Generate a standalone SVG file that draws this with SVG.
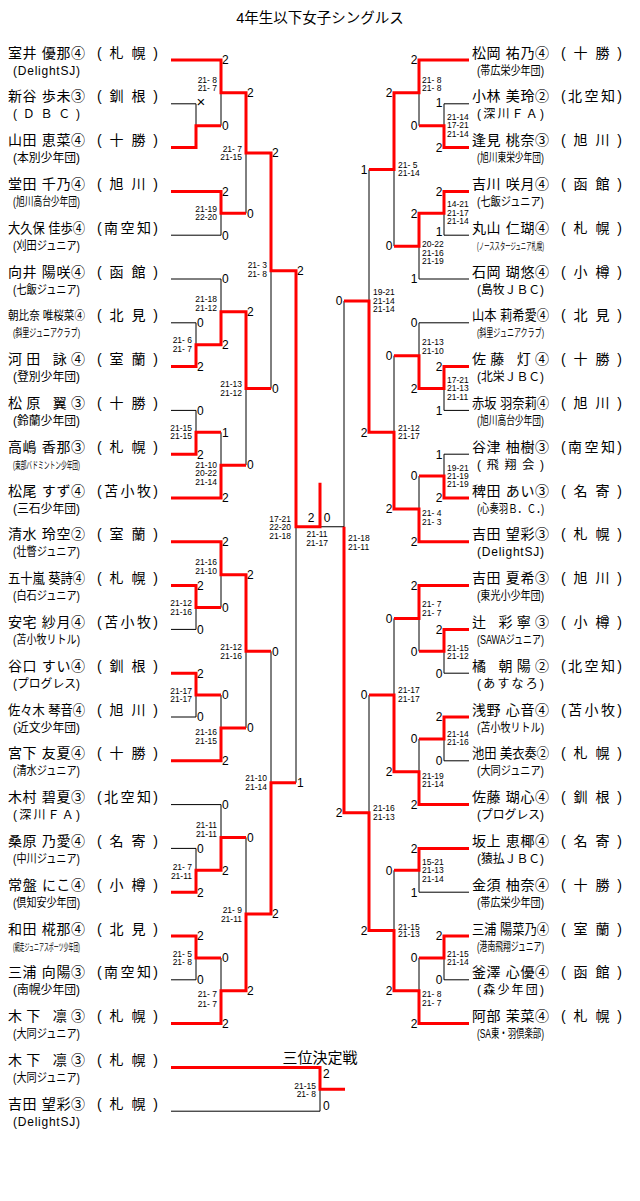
<svg xmlns="http://www.w3.org/2000/svg" width="640" height="1201" viewBox="0 0 640 1201">
<style>
text{font-family:"Liberation Sans","Noto Sans CJK JP",sans-serif;fill:#000}
.nm{font-size:14px}
.nm12{font-size:12px}
.tm{font-size:12px}
.t11{font-size:11px}
.t10{font-size:10px}
.lab{font-size:12px}
.labR{font-size:12px;text-anchor:end}
.sc{font-size:8.5px;text-anchor:end}
.scR{font-size:8.5px}
.scM{font-size:8.5px;text-anchor:middle}
.bl{fill:none;stroke:#000;stroke-width:1}
.rd{fill:none;stroke:#f00;stroke-width:3;stroke-linejoin:miter}
</style>
<rect width="640" height="1201" fill="#fff"/>
<text id="title" x="320" y="23" font-size="14.5" text-anchor="middle">4年生以下女子シングルス</text>
<text id="title3" x="320" y="1063" font-size="15" text-anchor="middle">三位決定戦</text>

<g id="connectors">
<path class="bl" d="M171,60H221 M171,103.8H196 M171,147.6H196 M171,191.4H221 M171,235.2H221 M171,279H221 M171,322.8H196 M171,366.6H196 M171,410.4H196 M171,454.2H196 M171,498H221 M171,541.8H221 M171,585.6H196 M171,629.4H196 M171,673.2H196 M171,717H196 M171,760.8H221 M171,804.6H221 M171,848.4H196 M171,892.2H196 M171,936H196 M171,979.8H196 M171,1023.6H221
M196,103.8V147.6 M196,125.7H221 M196,322.8V366.6 M196,344.7H221 M196,410.4V454.2 M196,432.3H221 M196,585.6V629.4 M196,607.5H221 M196,673.2V717 M196,695.1H221 M196,848.4V892.2 M196,870.3H221 M196,936V979.8 M196,957.9H221
M221,60V125.7 M221,92.85H246 M221,191.4V235.2 M221,213.3H246 M221,279V344.7 M221,311.85H246 M221,432.3V498 M221,465.15H246 M221,541.8V607.5 M221,574.65H246 M221,695.1V760.8 M221,727.95H246 M221,804.6V870.3 M221,837.45H246 M221,957.9V1023.6 M221,990.75H246
M246,92.85V213.3 M246,153.1H271 M246,311.85V465.15 M246,388.5H271 M246,574.65V727.95 M246,651.3H271 M246,837.45V990.75 M246,914.1H271
M271,153.1V388.5 M271,270.8H296 M271,651.3V914.1 M271,782.7H296
M296,270.8V782.7 M296,526.75H344
M171,1067.4H320 M171,1111.2H320 M320,1067.4V1111.2"/>
<path class="bl" d="M469,60H419 M469,103.8H444 M469,147.6H444 M469,191.4H444 M469,235.2H444 M469,279H419 M469,322.8H419 M469,366.6H444 M469,410.4H444 M469,454.2H444 M469,498H444 M469,541.8H419 M469,585.6H419 M469,629.4H444 M469,673.2H444 M469,717H444 M469,760.8H444 M469,804.6H419 M469,848.4H419 M469,892.2H419 M469,936H444 M469,979.8H444 M469,1023.6H419
M444,103.8V147.6 M444,125.7H419 M444,191.4V235.2 M444,213.3H419 M444,366.6V410.4 M444,388.5H419 M444,454.2V498 M444,476.1H419 M444,629.4V673.2 M444,651.3H419 M444,717V760.8 M444,738.9H419 M444,936V979.8 M444,957.9H419
M419,60V125.7 M419,92.85H394 M419,213.3V279 M419,246.15H394 M419,322.8V388.5 M419,355.65H394 M419,476.1V541.8 M419,508.95H394 M419,585.6V651.3 M419,618.45H394 M419,738.9V804.6 M419,771.75H394 M419,848.4V892.2 M419,870.3H394 M419,957.9V1023.6 M419,990.75H394
M394,92.85V246.15 M394,169.5H369 M394,355.65V508.95 M394,432.3H369 M394,618.45V771.75 M394,695.1H369 M394,870.3V990.75 M394,930.5H369
M369,169.5V432.3 M369,300.9H344 M369,695.1V930.5 M369,812.8H344
M344,300.9V812.8"/>
<path class="rd" d="M171,60H221V92.85H246V153.1H271V270.8H296V526.75H320V482.7"/>
<path class="rd" d="M171,147.6H196V125.7H221"/>
<path class="rd" d="M171,191.4H221V213.3H246"/>
<path class="rd" d="M171,366.6H196V344.7H221V311.85H246V388.5H271"/>
<path class="rd" d="M171,454.2H196V432.3H221"/>
<path class="rd" d="M171,498H221V465.15H246"/>
<path class="rd" d="M171,541.8H221V574.65H246V651.3H271"/>
<path class="rd" d="M171,585.6H196V607.5H221"/>
<path class="rd" d="M171,673.2H196V695.1H221"/>
<path class="rd" d="M171,760.8H221V727.95H246"/>
<path class="rd" d="M171,892.2H196V870.3H221V837.45H246"/>
<path class="rd" d="M171,936H196V957.9H221"/>
<path class="rd" d="M171,1023.6H221V990.75H246V914.1H271V782.7H296"/>
<path class="rd" d="M171,1067.4H320V1089.3H345"/>
<path class="rd" d="M469,60H419V92.85H394V169.5H369"/>
<path class="rd" d="M469,147.6H444V125.7H419"/>
<path class="rd" d="M469,191.4H444V213.3H419V246.15H394"/>
<path class="rd" d="M469,366.6H444V388.5H419V355.65H394"/>
<path class="rd" d="M469,498H444V476.1H419"/>
<path class="rd" d="M469,541.8H419V508.95H394V432.3H369V300.9H344"/>
<path class="rd" d="M469,585.6H419V618.45H394"/>
<path class="rd" d="M469,629.4H444V651.3H419"/>
<path class="rd" d="M469,717H444V738.9H419"/>
<path class="rd" d="M469,804.6H419V771.75H394V695.1H369"/>
<path class="rd" d="M469,848.4H419V870.3H394"/>
<path class="rd" d="M469,936H444V957.9H419"/>
<path class="rd" d="M469,1023.6H419V990.75H394V930.5H369V812.8H344V526.75"/>
</g>

<g id="points">
<text x="196.5" y="107" font-size="15">×</text>
<text class="lab" x="197" y="327.1">0</text><text class="lab" x="197" y="370.9">2</text>
<text class="lab" x="197" y="414.7">0</text><text class="lab" x="197" y="458.5">2</text>
<text class="lab" x="197" y="589.9">2</text><text class="lab" x="197" y="633.7">0</text>
<text class="lab" x="197" y="677.5">2</text><text class="lab" x="197" y="721.3">0</text>
<text class="lab" x="197" y="852.7">0</text><text class="lab" x="197" y="896.5">2</text>
<text class="lab" x="197" y="940.3">2</text><text class="lab" x="197" y="984.1">0</text>
<text class="lab" x="222" y="64.3">2</text><text class="lab" x="222" y="130">0</text>
<text class="lab" x="222" y="195.7">2</text><text class="lab" x="222" y="239.5">0</text>
<text class="lab" x="222" y="283.3">0</text><text class="lab" x="222" y="349">2</text>
<text class="lab" x="222" y="436.6">1</text><text class="lab" x="222" y="502.3">2</text>
<text class="lab" x="222" y="546.1">2</text><text class="lab" x="222" y="611.8">0</text>
<text class="lab" x="222" y="699.4">0</text><text class="lab" x="222" y="765.1">2</text>
<text class="lab" x="222" y="808.9">0</text><text class="lab" x="222" y="874.6">2</text>
<text class="lab" x="222" y="962.2">0</text><text class="lab" x="222" y="1027.9">2</text>
<text class="lab" x="247" y="97.15">2</text><text class="lab" x="247" y="217.6">0</text>
<text class="lab" x="247" y="316.15">2</text><text class="lab" x="247" y="469.45">0</text>
<text class="lab" x="247" y="578.95">2</text><text class="lab" x="247" y="732.25">0</text>
<text class="lab" x="247" y="841.75">0</text><text class="lab" x="247" y="995.05">2</text>
<text class="lab" x="272" y="157.4">2</text><text class="lab" x="272" y="392.8">0</text>
<text class="lab" x="272" y="655.6">0</text><text class="lab" x="272" y="918.4">2</text>
<text class="lab" x="297" y="275.1">2</text><text class="lab" x="297" y="787">1</text>
<text class="lab" x="311" y="521.5" text-anchor="middle">2</text><text class="lab" x="327" y="521.5" text-anchor="middle">0</text>
<text class="labR" x="442.5" y="106.5">1</text><text class="labR" x="442.5" y="151.9">2</text>
<text class="labR" x="442.5" y="195.7">2</text><text class="labR" x="442.5" y="236.3">1</text>
<text class="labR" x="442.5" y="370.9">2</text><text class="labR" x="442.5" y="414.7">1</text>
<text class="labR" x="442.5" y="458.5">1</text><text class="labR" x="442.5" y="502.3">2</text>
<text class="labR" x="442.5" y="633.7">2</text><text class="labR" x="442.5" y="677.5">0</text>
<text class="labR" x="442.5" y="721.3">2</text><text class="labR" x="442.5" y="765.1">0</text>
<text class="labR" x="442.5" y="940.3">2</text><text class="labR" x="442.5" y="984.1">0</text>
<text class="labR" x="417.5" y="64.3">2</text><text class="labR" x="417.5" y="130">0</text>
<text class="labR" x="417.5" y="217.6">2</text><text class="labR" x="417.5" y="283.3">1</text>
<text class="labR" x="417.5" y="327.1">0</text><text class="labR" x="417.5" y="392.8">2</text>
<text class="labR" x="417.5" y="480.4">0</text><text class="labR" x="417.5" y="546.1">2</text>
<text class="labR" x="417.5" y="589.9">2</text><text class="labR" x="417.5" y="655.6">0</text>
<text class="labR" x="417.5" y="743.2">0</text><text class="labR" x="417.5" y="808.9">2</text>
<text class="labR" x="417.5" y="852.7">2</text><text class="labR" x="417.5" y="896.5">1</text>
<text class="labR" x="417.5" y="962.2">0</text><text class="labR" x="417.5" y="1027.9">2</text>
<text class="labR" x="392.5" y="97.15">2</text><text class="labR" x="392.5" y="250.45">0</text>
<text class="labR" x="392.5" y="359.95">0</text><text class="labR" x="392.5" y="513.25">2</text>
<text class="labR" x="392.5" y="622.75">0</text><text class="labR" x="392.5" y="776.05">2</text>
<text class="labR" x="392.5" y="874.6">0</text><text class="labR" x="392.5" y="995.05">2</text>
<text class="labR" x="367.5" y="173.8">1</text><text class="labR" x="367.5" y="436.6">2</text>
<text class="labR" x="367.5" y="699.4">0</text><text class="labR" x="367.5" y="934.8">2</text>
<text class="labR" x="342.5" y="305.2">0</text><text class="labR" x="342.5" y="817.1">2</text>
<text class="lab" x="323" y="1078">2</text><text class="lab" x="323" y="1109.5">0</text>
</g>

<g id="scores">
<text class="sc"><tspan x="192" y="343">21- 6</tspan><tspan x="192" y="352">21- 7</tspan></text>
<text class="sc"><tspan x="192" y="430.7">21-15</tspan><tspan x="192" y="439">21-15</tspan></text>
<text class="sc"><tspan x="192" y="606.3">21-12</tspan><tspan x="192" y="614.7">21-16</tspan></text>
<text class="sc"><tspan x="192" y="693.7">21-17</tspan><tspan x="192" y="702.3">21-17</tspan></text>
<text class="sc"><tspan x="192" y="870.3">21- 7</tspan><tspan x="192" y="878.7">21-11</tspan></text>
<text class="sc"><tspan x="192" y="957">21- 5</tspan><tspan x="192" y="965.3">21- 8</tspan></text>
<text class="sc"><tspan x="217" y="83">21- 8</tspan><tspan x="217" y="90.7">21- 7</tspan></text>
<text class="sc"><tspan x="217" y="212">21-19</tspan><tspan x="217" y="219.7">22-20</tspan></text>
<text class="sc"><tspan x="217" y="302">21-18</tspan><tspan x="217" y="310.7">21-12</tspan></text>
<text class="sc"><tspan x="217" y="468">21-10</tspan><tspan x="217" y="475.7">20-22</tspan><tspan x="217" y="484.7">21-14</tspan></text>
<text class="sc"><tspan x="217" y="565.3">21-16</tspan><tspan x="217" y="574">21-10</tspan></text>
<text class="sc"><tspan x="217" y="735.3">21-16</tspan><tspan x="217" y="744">21-15</tspan></text>
<text class="sc"><tspan x="217" y="828">21-11</tspan><tspan x="217" y="837">21-11</tspan></text>
<text class="sc"><tspan x="217" y="997.3">21- 7</tspan><tspan x="217" y="1006.7">21- 7</tspan></text>
<text class="sc"><tspan x="242" y="152">21- 7</tspan><tspan x="242" y="159.7">21-15</tspan></text>
<text class="sc"><tspan x="242" y="387">21-13</tspan><tspan x="242" y="395.7">21-12</tspan></text>
<text class="sc"><tspan x="242" y="650.3">21-12</tspan><tspan x="242" y="659">21-16</tspan></text>
<text class="sc"><tspan x="242" y="913">21- 9</tspan><tspan x="242" y="922">21-11</tspan></text>
<text class="sc"><tspan x="267" y="268">21- 3</tspan><tspan x="267" y="277.3">21- 8</tspan></text>
<text class="sc"><tspan x="267" y="781.3">21-10</tspan><tspan x="267" y="789.7">21-14</tspan></text>
<text class="sc"><tspan x="291" y="522">17-21</tspan><tspan x="291" y="530">22-20</tspan><tspan x="291" y="539">21-18</tspan></text>
<text class="scM"><tspan x="317" y="537">21-11</tspan><tspan x="317" y="546">21-17</tspan></text>
<text class="scR"><tspan x="348" y="541">21-18</tspan><tspan x="348" y="550">21-11</tspan></text>
<text class="scR"><tspan x="447" y="120.3">21-14</tspan><tspan x="447" y="128">17-21</tspan><tspan x="447" y="137">21-14</tspan></text>
<text class="scR"><tspan x="447" y="207.3">14-21</tspan><tspan x="447" y="215.7">21-17</tspan><tspan x="447" y="224">21-14</tspan></text>
<text class="scR"><tspan x="447" y="383">17-21</tspan><tspan x="447" y="391.3">21-13</tspan><tspan x="447" y="400.3">21-11</tspan></text>
<text class="scR"><tspan x="447" y="470.7">19-21</tspan><tspan x="447" y="479">21-19</tspan><tspan x="447" y="487.3">21-19</tspan></text>
<text class="scR"><tspan x="447" y="650.7">21-15</tspan><tspan x="447" y="658.7">21-12</tspan></text>
<text class="scR"><tspan x="447" y="737.3">21-14</tspan><tspan x="447" y="745.3">21-16</tspan></text>
<text class="scR"><tspan x="447" y="957">21-15</tspan><tspan x="447" y="965.3">21-14</tspan></text>
<text class="scR"><tspan x="422" y="83">21- 8</tspan><tspan x="422" y="90.7">21- 8</tspan></text>
<text class="scR"><tspan x="422" y="247">20-22</tspan><tspan x="422" y="255.7">21-16</tspan><tspan x="422" y="264">21-19</tspan></text>
<text class="scR"><tspan x="422" y="345.3">21-13</tspan><tspan x="422" y="354">21-10</tspan></text>
<text class="scR"><tspan x="422" y="516.3">21- 4</tspan><tspan x="422" y="524.7">21- 3</tspan></text>
<text class="scR"><tspan x="422" y="607.3">21- 7</tspan><tspan x="422" y="616.3">21- 7</tspan></text>
<text class="scR"><tspan x="422" y="779">21-19</tspan><tspan x="422" y="787.3">21-14</tspan></text>
<text class="scR"><tspan x="422" y="864.7">15-21</tspan><tspan x="422" y="873">21-13</tspan><tspan x="422" y="882">21-14</tspan></text>
<text class="scR"><tspan x="422" y="997.3">21- 8</tspan><tspan x="422" y="1006.3">21- 7</tspan></text>
<text class="scR"><tspan x="398" y="168">21- 5</tspan><tspan x="398" y="176.3">21-14</tspan></text>
<text class="scR"><tspan x="398" y="430.7">21-12</tspan><tspan x="398" y="438.7">21-17</tspan></text>
<text class="scR"><tspan x="398" y="693">21-17</tspan><tspan x="398" y="702">21-17</tspan></text>
<text class="scR"><tspan x="398" y="929.7">21-15</tspan><tspan x="398" y="937.3">21-13</tspan></text>
<text class="scR"><tspan x="373" y="294.7">19-21</tspan><tspan x="373" y="303.7">21-14</tspan><tspan x="373" y="312">21-14</tspan></text>
<text class="scR"><tspan x="373" y="811.3">21-16</tspan><tspan x="373" y="819.7">21-13</tspan></text>
<text class="sc"><tspan x="316" y="1089">21-15</tspan><tspan x="316" y="1097">21- 8</tspan></text>
</g>

<g id="L00"><text class="nm" x="8" y="57.5" textLength="77" lengthAdjust="spacing">室井 優那④</text><text class="nm" x="97" y="57.5" textLength="61" lengthAdjust="spacing">(札幌)</text><text class="tm" x="13" y="74.5" textLength="67" lengthAdjust="spacing">(DelightSJ)</text></g>
<g id="L01"><text class="nm" x="8" y="101.3" textLength="77" lengthAdjust="spacing">新谷 歩未③</text><text class="nm" x="97" y="101.3" textLength="61" lengthAdjust="spacing">(釧根)</text><text class="tm" x="13" y="118.3" textLength="67" lengthAdjust="spacing">(ＤＢＣ)</text></g>
<g id="L02"><text class="nm" x="8" y="145.1" textLength="77" lengthAdjust="spacing">山田 恵菜④</text><text class="nm" x="97" y="145.1" textLength="61" lengthAdjust="spacing">(十勝)</text><text class="tm" x="13" y="162.1" textLength="67" lengthAdjust="spacingAndGlyphs">(本別少年団)</text></g>
<g id="L03"><text class="nm" x="8" y="188.9" textLength="77" lengthAdjust="spacing">堂田 千乃④</text><text class="nm" x="97" y="188.9" textLength="61" lengthAdjust="spacing">(旭川)</text><text class="tm" x="13" y="205.9" textLength="67" lengthAdjust="spacingAndGlyphs">(旭川高台少年団)</text></g>
<g id="L04"><text class="nm" x="8" y="232.7" textLength="77" lengthAdjust="spacingAndGlyphs">大久保 佳歩④</text><text class="nm" x="97" y="232.7" textLength="61" lengthAdjust="spacing">(南空知)</text><text class="tm" x="13" y="249.7" textLength="67" lengthAdjust="spacingAndGlyphs">(刈田ジュニア)</text></g>
<g id="L05"><text class="nm" x="8" y="276.5" textLength="77" lengthAdjust="spacing">向井 陽咲④</text><text class="nm" x="97" y="276.5" textLength="61" lengthAdjust="spacing">(函館)</text><text class="tm" x="13" y="293.5" textLength="67" lengthAdjust="spacingAndGlyphs">(七飯ジュニア)</text></g>
<g id="L06"><text class="nm12" x="8" y="320.3" textLength="77" lengthAdjust="spacingAndGlyphs">朝比奈 唯桜菜④</text><text class="nm" x="97" y="320.3" textLength="61" lengthAdjust="spacing">(北見)</text><text class="t11" x="13" y="337.3" textLength="67" lengthAdjust="spacingAndGlyphs">(斜里ジュニアクラブ)</text></g>
<g id="L07"><text class="nm" x="8" y="364.1" textLength="77" lengthAdjust="spacing">河田 詠④</text><text class="nm" x="97" y="364.1" textLength="61" lengthAdjust="spacing">(室蘭)</text><text class="tm" x="13" y="381.1" textLength="67" lengthAdjust="spacingAndGlyphs">(登別少年団)</text></g>
<g id="L08"><text class="nm" x="8" y="407.9" textLength="77" lengthAdjust="spacing">松原 翼③</text><text class="nm" x="97" y="407.9" textLength="61" lengthAdjust="spacing">(十勝)</text><text class="tm" x="13" y="424.9" textLength="67" lengthAdjust="spacingAndGlyphs">(鈴蘭少年団)</text></g>
<g id="L09"><text class="nm" x="8" y="451.7" textLength="77" lengthAdjust="spacing">高嶋 香那③</text><text class="nm" x="97" y="451.7" textLength="61" lengthAdjust="spacing">(札幌)</text><text class="t10" x="13" y="468.7" textLength="67" lengthAdjust="spacingAndGlyphs">(東部バドミントン少年団)</text></g>
<g id="L10"><text class="nm" x="8" y="495.5" textLength="77" lengthAdjust="spacing">松尾 すず④</text><text class="nm" x="97" y="495.5" textLength="61" lengthAdjust="spacing">(苫小牧)</text><text class="tm" x="13" y="512.5" textLength="67" lengthAdjust="spacingAndGlyphs">(三石少年団)</text></g>
<g id="L11"><text class="nm" x="8" y="539.3" textLength="77" lengthAdjust="spacing">清水 玲空②</text><text class="nm" x="97" y="539.3" textLength="61" lengthAdjust="spacing">(室蘭)</text><text class="tm" x="13" y="556.3" textLength="67" lengthAdjust="spacingAndGlyphs">(壮瞥ジュニア)</text></g>
<g id="L12"><text class="nm" x="8" y="583.1" textLength="77" lengthAdjust="spacingAndGlyphs">五十嵐 葵詩④</text><text class="nm" x="97" y="583.1" textLength="61" lengthAdjust="spacing">(札幌)</text><text class="tm" x="13" y="600.1" textLength="67" lengthAdjust="spacingAndGlyphs">(白石ジュニア)</text></g>
<g id="L13"><text class="nm" x="8" y="626.9" textLength="77" lengthAdjust="spacing">安宅 紗月④</text><text class="nm" x="97" y="626.9" textLength="61" lengthAdjust="spacing">(苫小牧)</text><text class="tm" x="13" y="643.9" textLength="67" lengthAdjust="spacingAndGlyphs">(苫小牧リトル)</text></g>
<g id="L14"><text class="nm" x="8" y="670.7" textLength="77" lengthAdjust="spacing">谷口 すい④</text><text class="nm" x="97" y="670.7" textLength="61" lengthAdjust="spacing">(釧根)</text><text class="tm" x="13" y="687.7" textLength="67" lengthAdjust="spacingAndGlyphs">(プログレス)</text></g>
<g id="L15"><text class="nm" x="8" y="714.5" textLength="77" lengthAdjust="spacingAndGlyphs">佐々木 琴音④</text><text class="nm" x="97" y="714.5" textLength="61" lengthAdjust="spacing">(旭川)</text><text class="tm" x="13" y="731.5" textLength="67" lengthAdjust="spacingAndGlyphs">(近文少年団)</text></g>
<g id="L16"><text class="nm" x="8" y="758.3" textLength="77" lengthAdjust="spacing">宮下 友夏④</text><text class="nm" x="97" y="758.3" textLength="61" lengthAdjust="spacing">(十勝)</text><text class="tm" x="13" y="775.3" textLength="67" lengthAdjust="spacingAndGlyphs">(清水ジュニア)</text></g>
<g id="L17"><text class="nm" x="8" y="802.1" textLength="77" lengthAdjust="spacing">木村 碧夏③</text><text class="nm" x="97" y="802.1" textLength="61" lengthAdjust="spacing">(北空知)</text><text class="tm" x="13" y="819.1" textLength="67" lengthAdjust="spacing">(深川ＦＡ)</text></g>
<g id="L18"><text class="nm" x="8" y="845.9" textLength="77" lengthAdjust="spacing">桑原 乃愛④</text><text class="nm" x="97" y="845.9" textLength="61" lengthAdjust="spacing">(名寄)</text><text class="tm" x="13" y="862.9" textLength="67" lengthAdjust="spacingAndGlyphs">(中川ジュニア)</text></g>
<g id="L19"><text class="nm" x="8" y="889.7" textLength="77" lengthAdjust="spacing">常盤 にこ④</text><text class="nm" x="97" y="889.7" textLength="61" lengthAdjust="spacing">(小樽)</text><text class="tm" x="13" y="906.7" textLength="67" lengthAdjust="spacingAndGlyphs">(倶知安少年団)</text></g>
<g id="L20"><text class="nm" x="8" y="933.5" textLength="77" lengthAdjust="spacing">和田 椛那④</text><text class="nm" x="97" y="933.5" textLength="61" lengthAdjust="spacing">(北見)</text><text class="t10" x="13" y="950.5" textLength="67" lengthAdjust="spacingAndGlyphs">(網走ジュニアスポーツ少年団)</text></g>
<g id="L21"><text class="nm" x="8" y="977.3" textLength="77" lengthAdjust="spacing">三浦 向陽③</text><text class="nm" x="97" y="977.3" textLength="61" lengthAdjust="spacing">(南空知)</text><text class="tm" x="13" y="994.3" textLength="67" lengthAdjust="spacingAndGlyphs">(南幌少年団)</text></g>
<g id="L22"><text class="nm" x="8" y="1021.1" textLength="77" lengthAdjust="spacing">木下 凛③</text><text class="nm" x="97" y="1021.1" textLength="61" lengthAdjust="spacing">(札幌)</text><text class="tm" x="13" y="1038.1" textLength="67" lengthAdjust="spacingAndGlyphs">(大同ジュニア)</text></g>
<g id="T1"><text class="nm" x="8" y="1064.9" textLength="77" lengthAdjust="spacing">木下 凛③</text><text class="nm" x="97" y="1064.9" textLength="61" lengthAdjust="spacing">(札幌)</text><text class="tm" x="13" y="1081.9" textLength="67" lengthAdjust="spacingAndGlyphs">(大同ジュニア)</text></g>
<g id="T2"><text class="nm" x="8" y="1108.7" textLength="77" lengthAdjust="spacing">吉田 望彩③</text><text class="nm" x="97" y="1108.7" textLength="61" lengthAdjust="spacing">(札幌)</text><text class="tm" x="13" y="1125.7" textLength="67" lengthAdjust="spacing">(DelightSJ)</text></g>

<g id="R00"><text class="nm" x="472" y="57.5" textLength="77" lengthAdjust="spacing">松岡 祐乃④</text><text class="nm" x="561" y="57.5" textLength="61" lengthAdjust="spacing">(十勝)</text><text class="tm" x="477" y="74.5" textLength="67" lengthAdjust="spacingAndGlyphs">(帯広栄少年団)</text></g>
<g id="R01"><text class="nm" x="472" y="101.3" textLength="77" lengthAdjust="spacing">小林 美玲②</text><text class="nm" x="561" y="101.3" textLength="61" lengthAdjust="spacing">(北空知)</text><text class="tm" x="477" y="118.3" textLength="67" lengthAdjust="spacing">(深川ＦＡ)</text></g>
<g id="R02"><text class="nm" x="472" y="145.1" textLength="77" lengthAdjust="spacing">逢見 桃奈③</text><text class="nm" x="561" y="145.1" textLength="61" lengthAdjust="spacing">(旭川)</text><text class="tm" x="477" y="162.1" textLength="67" lengthAdjust="spacingAndGlyphs">(旭川東栄少年団)</text></g>
<g id="R03"><text class="nm" x="472" y="188.9" textLength="77" lengthAdjust="spacing">吉川 咲月④</text><text class="nm" x="561" y="188.9" textLength="61" lengthAdjust="spacing">(函館)</text><text class="tm" x="477" y="205.9" textLength="67" lengthAdjust="spacingAndGlyphs">(七飯ジュニア)</text></g>
<g id="R04"><text class="nm" x="472" y="232.7" textLength="77" lengthAdjust="spacing">丸山 仁瑚④</text><text class="nm" x="561" y="232.7" textLength="61" lengthAdjust="spacing">(札幌)</text><text class="t10" x="477" y="249.7" textLength="67" lengthAdjust="spacingAndGlyphs">(ノーススタージュニア札幌)</text></g>
<g id="R05"><text class="nm" x="472" y="276.5" textLength="77" lengthAdjust="spacing">石岡 瑚悠④</text><text class="nm" x="561" y="276.5" textLength="61" lengthAdjust="spacing">(小樽)</text><text class="tm" x="477" y="293.5" textLength="67" lengthAdjust="spacingAndGlyphs">(島牧ＪＢＣ)</text></g>
<g id="R06"><text class="nm" x="472" y="320.3" textLength="77" lengthAdjust="spacingAndGlyphs">山本 莉希愛④</text><text class="nm" x="561" y="320.3" textLength="61" lengthAdjust="spacing">(北見)</text><text class="t11" x="477" y="337.3" textLength="67" lengthAdjust="spacingAndGlyphs">(斜里ジュニアクラブ)</text></g>
<g id="R07"><text class="nm" x="472" y="364.1" textLength="77" lengthAdjust="spacing">佐藤 灯④</text><text class="nm" x="561" y="364.1" textLength="61" lengthAdjust="spacing">(十勝)</text><text class="tm" x="477" y="381.1" textLength="67" lengthAdjust="spacingAndGlyphs">(北栄ＪＢＣ)</text></g>
<g id="R08"><text class="nm" x="472" y="407.9" textLength="77" lengthAdjust="spacingAndGlyphs">赤坂 羽奈莉④</text><text class="nm" x="561" y="407.9" textLength="61" lengthAdjust="spacing">(旭川)</text><text class="tm" x="477" y="424.9" textLength="67" lengthAdjust="spacingAndGlyphs">(旭川高台少年団)</text></g>
<g id="R09"><text class="nm" x="472" y="451.7" textLength="77" lengthAdjust="spacing">谷津 柚樹③</text><text class="nm" x="561" y="451.7" textLength="61" lengthAdjust="spacing">(南空知)</text><text class="tm" x="477" y="468.7" textLength="67" lengthAdjust="spacing">(飛翔会)</text></g>
<g id="R10"><text class="nm" x="472" y="495.5" textLength="77" lengthAdjust="spacing">稗田 あい③</text><text class="nm" x="561" y="495.5" textLength="61" lengthAdjust="spacing">(名寄)</text><text class="tm" x="477" y="512.5" textLength="67" lengthAdjust="spacingAndGlyphs">(心奏羽Ｂ．Ｃ．)</text></g>
<g id="R11"><text class="nm" x="472" y="539.3" textLength="77" lengthAdjust="spacing">吉田 望彩③</text><text class="nm" x="561" y="539.3" textLength="61" lengthAdjust="spacing">(札幌)</text><text class="tm" x="477" y="556.3" textLength="67" lengthAdjust="spacing">(DelightSJ)</text></g>
<g id="R12"><text class="nm" x="472" y="583.1" textLength="77" lengthAdjust="spacing">吉田 夏希③</text><text class="nm" x="561" y="583.1" textLength="61" lengthAdjust="spacing">(旭川)</text><text class="tm" x="477" y="600.1" textLength="67" lengthAdjust="spacingAndGlyphs">(東光小少年団)</text></g>
<g id="R13"><text class="nm" x="472" y="626.9" textLength="77" lengthAdjust="spacing">辻 彩寧③</text><text class="nm" x="561" y="626.9" textLength="61" lengthAdjust="spacing">(小樽)</text><text class="tm" x="477" y="643.9" textLength="67" lengthAdjust="spacingAndGlyphs">(SAWAジュニア)</text></g>
<g id="R14"><text class="nm" x="472" y="670.7" textLength="77" lengthAdjust="spacing">橘 朝陽②</text><text class="nm" x="561" y="670.7" textLength="61" lengthAdjust="spacing">(北空知)</text><text class="tm" x="477" y="687.7" textLength="67" lengthAdjust="spacing">(あすなろ)</text></g>
<g id="R15"><text class="nm" x="472" y="714.5" textLength="77" lengthAdjust="spacing">浅野 心音④</text><text class="nm" x="561" y="714.5" textLength="61" lengthAdjust="spacing">(苫小牧)</text><text class="tm" x="477" y="731.5" textLength="67" lengthAdjust="spacingAndGlyphs">(苫小牧リトル)</text></g>
<g id="R16"><text class="nm" x="472" y="758.3" textLength="77" lengthAdjust="spacingAndGlyphs">池田 美衣奏②</text><text class="nm" x="561" y="758.3" textLength="61" lengthAdjust="spacing">(札幌)</text><text class="tm" x="477" y="775.3" textLength="67" lengthAdjust="spacingAndGlyphs">(大同ジュニア)</text></g>
<g id="R17"><text class="nm" x="472" y="802.1" textLength="77" lengthAdjust="spacing">佐藤 瑚心④</text><text class="nm" x="561" y="802.1" textLength="61" lengthAdjust="spacing">(釧根)</text><text class="tm" x="477" y="819.1" textLength="67" lengthAdjust="spacingAndGlyphs">(プログレス)</text></g>
<g id="R18"><text class="nm" x="472" y="845.9" textLength="77" lengthAdjust="spacing">坂上 恵椰④</text><text class="nm" x="561" y="845.9" textLength="61" lengthAdjust="spacing">(名寄)</text><text class="tm" x="477" y="862.9" textLength="67" lengthAdjust="spacingAndGlyphs">(猿払ＪＢＣ)</text></g>
<g id="R19"><text class="nm" x="472" y="889.7" textLength="77" lengthAdjust="spacing">金須 柚奈④</text><text class="nm" x="561" y="889.7" textLength="61" lengthAdjust="spacing">(十勝)</text><text class="tm" x="477" y="906.7" textLength="67" lengthAdjust="spacingAndGlyphs">(帯広栄少年団)</text></g>
<g id="R20"><text class="nm" x="472" y="933.5" textLength="77" lengthAdjust="spacingAndGlyphs">三浦 陽菜乃④</text><text class="nm" x="561" y="933.5" textLength="61" lengthAdjust="spacing">(室蘭)</text><text class="tm" x="477" y="950.5" textLength="67" lengthAdjust="spacingAndGlyphs">(港南飛翔ジュニア)</text></g>
<g id="R21"><text class="nm" x="472" y="977.3" textLength="77" lengthAdjust="spacing">釜澤 心優④</text><text class="nm" x="561" y="977.3" textLength="61" lengthAdjust="spacing">(函館)</text><text class="tm" x="477" y="994.3" textLength="67" lengthAdjust="spacing">(森少年団)</text></g>
<g id="R22"><text class="nm" x="472" y="1021.1" textLength="77" lengthAdjust="spacing">阿部 茉菜④</text><text class="nm" x="561" y="1021.1" textLength="61" lengthAdjust="spacing">(札幌)</text><text class="tm" x="477" y="1038.1" textLength="67" lengthAdjust="spacingAndGlyphs">(SA東・羽倶楽部)</text></g>
</svg>
